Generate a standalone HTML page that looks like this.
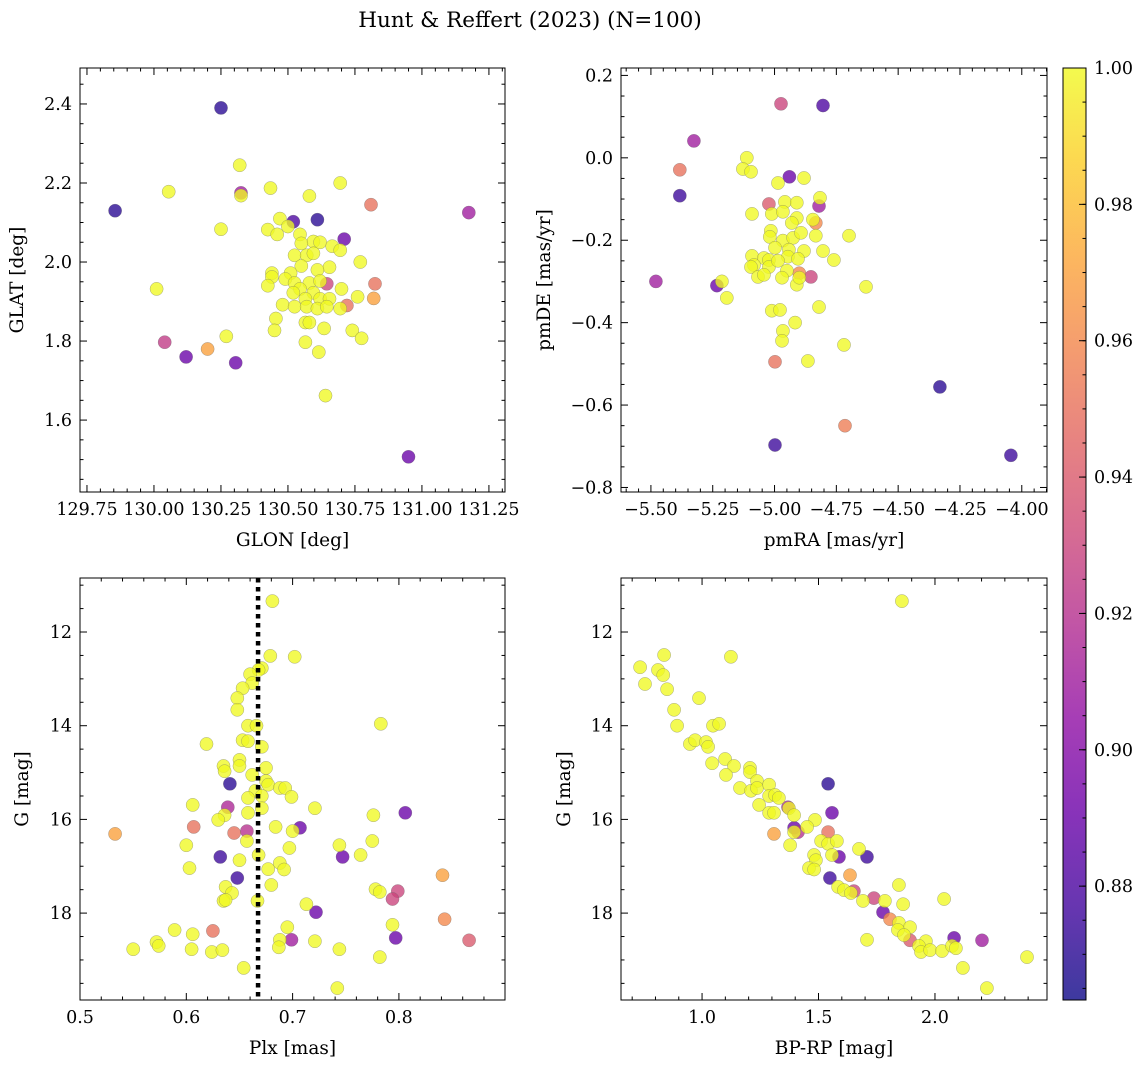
<!DOCTYPE html>
<html><head><meta charset="utf-8">
<style>
html,body{margin:0;padding:0;background:#fff;}
svg{display:block;font-family:"DejaVu Serif","Liberation Serif",serif;}
</style></head>
<body>
<svg id="fig" width="1148" height="1067" viewBox="0 0 1148 1067" xmlns="http://www.w3.org/2000/svg">
<defs>
<linearGradient id="plasma" x1="0" y1="1" x2="0" y2="0">
<stop offset="0" stop-color="#0d0887"/><stop offset="0.1" stop-color="#41049d"/><stop offset="0.2" stop-color="#6a00a8"/><stop offset="0.3" stop-color="#8f0da4"/><stop offset="0.4" stop-color="#b12a90"/><stop offset="0.5" stop-color="#cc4778"/><stop offset="0.6" stop-color="#e16462"/><stop offset="0.7" stop-color="#f2844b"/><stop offset="0.8" stop-color="#fca636"/><stop offset="0.9" stop-color="#fcce25"/><stop offset="1" stop-color="#f0f921"/>
</linearGradient>
</defs>
<text x="530" y="27" text-anchor="middle" font-size="21.5">Hunt &amp; Reffert (2023) (N=100)</text>
</svg>
<script>
// ---- Panel 1: GLON / GLAT ----
const glon = [130.25,129.855,131.175,130.95,130.04,130.12,130.20,130.305,130.81,130.825,130.82,130.72,130.61,130.52,130.71,130.325,130.645,
130.32,130.055,130.325,130.435,130.695,130.58,130.25,130.47,130.50,130.425,130.46,130.545,130.595,130.62,130.665,130.695,130.55,130.525,130.57,130.595,130.77,130.55,130.655,130.61,130.44,130.44,130.51,130.49,130.425,130.525,130.58,130.62,130.545,130.52,130.595,130.70,130.76,130.48,130.525,130.565,130.57,130.62,130.655,130.61,130.645,130.695,130.455,130.45,130.565,130.58,130.635,130.74,130.775,130.565,130.615,130.27,130.01,130.64];
const glat = [2.39,2.13,2.125,1.507,1.797,1.76,1.78,1.745,2.145,1.945,1.908,1.89,2.107,2.102,2.058,2.175,1.945,
2.245,2.178,2.168,2.187,2.2,2.167,2.083,2.11,2.09,2.082,2.07,2.07,2.052,2.05,2.04,2.03,2.047,2.017,2.017,2.022,2.0,1.99,1.987,1.98,1.972,1.962,1.972,1.957,1.94,1.947,1.947,1.952,1.932,1.922,1.922,1.932,1.912,1.892,1.887,1.907,1.887,1.907,1.907,1.882,1.887,1.882,1.857,1.827,1.847,1.847,1.832,1.827,1.807,1.797,1.772,1.812,1.932,1.662];
const prob1 = [0.87,0.87,0.91,0.89,0.925,0.89,0.97,0.89,0.95,0.95,0.97,0.95,0.87,0.88,0.89,0.91,0.93];
// ---- Panel 2: pmRA / pmDE ----
const pmra = [-4.974,-4.804,-5.326,-5.383,-5.383,-5.48,-5.233,-4.94,-5.023,-4.82,-4.833,-4.853,-4.90,-4.998,-4.715,-4.998,-4.331,-4.044,
-5.112,-5.128,-5.095,-4.986,-4.881,-4.816,-5.091,-5.011,-4.958,-4.91,-4.966,-4.91,-4.845,-4.93,-4.699,-5.015,-5.019,-4.966,-4.925,-4.893,-4.833,-4.998,-4.942,-4.881,-4.804,-5.091,-5.043,-5.023,-4.946,-4.905,-4.76,-5.083,-5.095,-5.023,-4.986,-4.95,-5.067,-5.043,-4.97,-4.91,-4.90,-5.213,-5.193,-4.63,-5.011,-4.978,-4.82,-4.917,-4.966,-4.97,-4.719,-4.865];
const pmde = [0.131,0.127,0.041,-0.029,-0.092,-0.30,-0.31,-0.046,-0.112,-0.117,-0.158,-0.289,-0.28,-0.495,-0.65,-0.697,-0.556,-0.722,
0.0,-0.027,-0.034,-0.061,-0.049,-0.097,-0.136,-0.136,-0.107,-0.109,-0.131,-0.146,-0.15,-0.158,-0.189,-0.177,-0.192,-0.201,-0.194,-0.182,-0.189,-0.218,-0.223,-0.226,-0.226,-0.238,-0.243,-0.248,-0.24,-0.245,-0.248,-0.26,-0.265,-0.265,-0.25,-0.274,-0.289,-0.284,-0.291,-0.308,-0.291,-0.30,-0.34,-0.313,-0.371,-0.369,-0.362,-0.40,-0.42,-0.444,-0.454,-0.493];
const prob2 = [0.93,0.88,0.91,0.95,0.875,0.91,0.89,0.89,0.94,0.91,0.96,0.93,0.96,0.95,0.955,0.875,0.87,0.875];
// ---- Panel 3: Plx / G ----
const plx = [0.533,0.607,0.639,0.657,0.645,0.641,0.632,0.648,0.625,0.707,0.747,0.806,0.722,0.699,0.797,0.799,0.794,0.841,0.843,0.866,
0.681,0.679,0.702,0.671,0.668,0.66,0.662,0.653,0.648,0.648,0.658,0.666,0.619,0.653,0.658,0.671,0.635,0.636,0.65,0.65,0.662,0.675,0.675,0.677,0.688,0.693,0.699,0.665,0.671,0.658,0.671,0.658,0.636,0.63,0.606,0.721,0.776,0.684,0.70,0.697,0.657,0.668,0.65,0.677,0.688,0.692,0.60,0.603,0.744,0.764,0.775,0.68,0.637,0.643,0.635,0.637,0.667,0.778,0.782,0.713,0.794,0.695,0.688,0.687,0.721,0.744,0.782,0.742,0.654,0.589,0.606,0.572,0.574,0.55,0.605,0.624,0.634,0.783];
const gmag3 = [16.31,16.16,15.74,16.25,16.29,15.24,16.8,17.25,18.38,16.18,16.8,15.86,17.98,18.57,18.53,17.53,17.7,17.19,18.13,18.58,
11.34,12.51,12.53,12.77,12.81,12.9,13.09,13.2,13.41,13.66,14.0,14.0,14.39,14.31,14.33,14.45,14.86,14.97,14.73,14.86,15.05,14.9,15.18,15.26,15.33,15.33,15.52,15.39,15.5,15.54,15.76,15.86,15.91,16.01,15.69,15.76,15.91,16.16,16.25,16.61,16.46,16.76,16.87,17.06,16.93,17.07,16.55,17.04,16.55,16.76,16.46,17.4,17.44,17.57,17.74,17.72,17.74,17.49,17.55,17.81,18.25,18.3,18.57,18.73,18.6,18.77,18.94,19.6,19.17,18.36,18.45,18.62,18.7,18.77,18.77,18.83,18.79,13.96];
const prob3 = [0.97,0.95,0.915,0.92,0.95,0.87,0.875,0.875,0.95,0.89,0.89,0.89,0.89,0.91,0.89,0.93,0.93,0.97,0.96,0.94];
const clusterPlx = [0.6675];
// ---- Panel 4: BP-RP / G ----
const bprp = [1.541,1.558,1.588,1.708,1.549,1.395,1.412,1.369,1.309,1.541,1.635,1.652,1.738,1.777,1.807,1.893,2.082,2.202,
1.858,0.734,0.837,0.811,0.833,0.755,0.85,1.124,0.987,0.88,0.893,1.047,1.073,0.948,0.97,1.017,1.026,1.043,1.099,1.137,1.103,1.206,1.206,1.236,1.163,1.21,1.236,1.288,1.288,1.313,1.33,1.245,1.288,1.309,1.373,1.395,1.485,1.451,1.395,1.378,1.511,1.541,1.579,1.558,1.674,1.481,1.489,1.459,1.481,1.584,1.609,1.639,1.691,1.785,1.845,1.863,2.039,1.845,1.893,1.841,1.867,1.961,1.931,1.94,1.979,2.03,2.073,2.09,1.708,2.12,2.223,2.395];
const gmag4 = [15.24,15.86,16.8,16.8,17.25,16.18,16.27,15.74,16.31,16.27,17.19,17.53,17.68,17.98,18.13,18.58,18.53,18.58,
11.34,12.75,12.49,12.81,12.92,13.11,13.22,12.53,13.41,13.66,14.0,14.0,13.96,14.39,14.31,14.35,14.45,14.8,14.71,14.86,15.05,14.9,14.99,15.18,15.33,15.39,15.33,15.26,15.5,15.48,15.54,15.69,15.86,15.86,15.76,15.91,16.01,16.16,16.27,16.55,16.46,16.52,16.46,16.76,16.63,16.76,16.87,17.04,17.07,17.44,17.51,17.57,17.74,17.74,17.4,17.81,17.7,18.21,18.3,18.36,18.47,18.6,18.7,18.83,18.79,18.81,18.7,18.75,18.57,19.17,19.6,18.94];
const prob4 = [0.87,0.89,0.89,0.875,0.875,0.89,0.92,0.915,0.97,0.95,0.97,0.93,0.93,0.89,0.96,0.94,0.89,0.91];
const cbTicks = [0.88,0.90,0.92,0.94,0.96,0.98,1.00];

const NS='http://www.w3.org/2000/svg';
const svg=document.getElementById('fig');
function mk(tag,attrs,parent){const e=document.createElementNS(NS,tag);for(const k in attrs)e.setAttribute(k,attrs[k]);(parent||svg).appendChild(e);return e;}
const CMIN=0.8633,CMAX=1.0;
const stops=[[13,8,135],[65,4,157],[106,0,168],[143,13,164],[177,42,144],[204,71,120],[225,100,98],[242,132,75],[252,166,54],[252,206,37],[240,249,33]];
function cmap(v){let t=(v-CMIN)/(CMAX-CMIN);t=Math.max(0,Math.min(1,t))*10;const i=Math.min(9,Math.floor(t)),f=t-i;const a=stops[i],b=stops[i+1];return 'rgb('+a.map((c,j)=>Math.round(c+(b[j]-c)*f)).join(',')+')';}
function fmtNum(v,d){const s=Math.abs(v).toFixed(d);return (v<-1e-9?'\u2212':'')+s;}
const TF=17.5, LF=18.5;
function panel(o){
  const g=mk('g',{});
  
  
  const sx=v=>o.x0+(v-o.xmin)/(o.xmax-o.xmin)*o.w;
  const sy=v=>o.inv? o.y0+(v-o.ymin)/(o.ymax-o.ymin)*o.h : o.y0+o.h-(v-o.ymin)/(o.ymax-o.ymin)*o.h;
  const pts=mk('g',{},g);
  
  
  for(let i=0;i<o.xs.length;i++){
    const p=i<o.prob.length?o.prob[i]:1.0;
    const c=mk('circle',{cx:sx(o.xs[i]).toFixed(1),cy:sy(o.ys[i]).toFixed(1),r:6.6,fill:cmap(p),'fill-opacity':0.78,stroke:'#666','stroke-width':0.4,'stroke-opacity':0.7},pts);
    
    
  }
  if(o.extra)o.extra(g,sx,sy);
  const fr=mk('rect',{x:o.x0,y:o.y0,width:o.w,height:o.h,fill:'none',stroke:'#000','stroke-width':1},g);
  
  
  const tk=mk('g',{stroke:'#000','stroke-width':1},g);
  const eps=1e-9;
  for(let v=Math.ceil(o.xmin/o.xminor-eps)*o.xminor; v<=o.xmax+eps; v+=o.xminor){
    const isMaj=Math.abs(v/o.xmajor-Math.round(v/o.xmajor))<1e-4;
    const L=isMaj?7:3.5,x=sx(v);
    mk('line',{x1:x,x2:x,y1:o.y0+o.h,y2:o.y0+o.h-L},tk);
    mk('line',{x1:x,x2:x,y1:o.y0,y2:o.y0+L},tk);
    if(isMaj){const t=mk('text',{x:x,y:o.y0+o.h+23,'text-anchor':'middle','font-size':TF,fill:'#000',stroke:'none'},g);t.textContent=fmtNum(v,o.xd);
      }
  }
  for(let v=Math.ceil(o.ymin/o.yminor-eps)*o.yminor; v<=o.ymax+eps; v+=o.yminor){
    const isMaj=Math.abs(v/o.ymajor-Math.round(v/o.ymajor))<1e-4;
    const L=isMaj?7:3.5,y=sy(v);
    mk('line',{x1:o.x0,x2:o.x0+L,y1:y,y2:y},tk);
    mk('line',{x1:o.x0+o.w,x2:o.x0+o.w-L,y1:y,y2:y},tk);
    if(isMaj){const t=mk('text',{x:o.x0-8,y:y+6,'text-anchor':'end','font-size':TF,fill:'#000',stroke:'none'},g);t.textContent=fmtNum(v,o.yd);
      }
  }
  const xl=mk('text',{x:o.x0+o.w/2,y:o.y0+o.h+54,'text-anchor':'middle','font-size':LF},g);xl.textContent=o.xlabel;
  
  const ylx=o.ylx, yly=o.y0+o.h/2;
  const yl=mk('text',{x:ylx,y:yly,'text-anchor':'middle','font-size':LF,transform:'rotate(-90 '+ylx+' '+yly+')'},g);yl.textContent=o.ylabel;
  
}
panel({name:'glon-glat-panel',x0:80,y0:68,w:425,h:424,xmin:129.724,xmax:131.31,ymin:1.418,ymax:2.491,xmajor:0.25,xminor:0.05,ymajor:0.2,yminor:0.05,xd:2,yd:1,xs:glon,ys:glat,prob:prob1,xlabel:'GLON [deg]',ylabel:'GLAT [deg]',ylx:23});
panel({name:'pm-panel',x0:621,y0:68,w:426,h:424,xmin:-5.621,xmax:-3.898,ymin:-0.811,ymax:0.218,xmajor:0.25,xminor:0.05,ymajor:0.2,yminor:0.05,xd:2,yd:1,xs:pmra,ys:pmde,prob:prob2,xlabel:'pmRA [mas/yr]',ylabel:'pmDE [mas/yr]',ylx:550});
panel({name:'plx-g-panel',x0:80,y0:578,w:425,h:422,xmin:0.5,xmax:0.8998,ymin:10.847,ymax:19.855,inv:true,xmajor:0.1,xminor:0.02,ymajor:2,yminor:0.5,xd:1,yd:0,xs:plx,ys:gmag3,prob:prob3,xlabel:'Plx [mas]',ylabel:'G [mag]',ylx:28,
  extra:(g,sx,sy)=>{const l=mk('line',{x1:sx(clusterPlx[0]),x2:sx(clusterPlx[0]),y1:578,y2:1000,stroke:'#000','stroke-width':4.5,'stroke-dasharray':'4.5 4.5'},g);
    }});
panel({name:'cmd-panel',x0:621,y0:578,w:426,h:422,xmin:0.652,xmax:2.481,ymin:10.847,ymax:19.855,inv:true,xmajor:0.5,xminor:0.1,ymajor:2,yminor:0.5,xd:1,yd:0,xs:bprp,ys:gmag4,prob:prob4,xlabel:'BP-RP [mag]',ylabel:'G [mag]',ylx:570});

const cb=mk('g',{});


mk('rect',{x:1063,y:68,width:23,height:932,fill:'url(#plasma)','fill-opacity':0.8,stroke:'none'},cb);
mk('rect',{x:1063,y:68,width:23,height:932,fill:'none',stroke:'#000','stroke-width':1},cb);
const cy=v=>1000-(v-CMIN)/(CMAX-CMIN)*932;
for(let v=0.865;v<=1.0001;v+=0.005){const y=cy(v);mk('line',{x1:1086,x2:1082.5,y1:y,y2:y,stroke:'#000','stroke-width':1},cb);}
cbTicks.forEach(v=>{const y=cy(v);mk('line',{x1:1086,x2:1079,y1:y,y2:y,stroke:'#000','stroke-width':1},cb);
  const t=mk('text',{x:1094,y:y+6,'font-size':TF},cb);t.textContent=v.toFixed(2);
  });
</script>
</body></html>
